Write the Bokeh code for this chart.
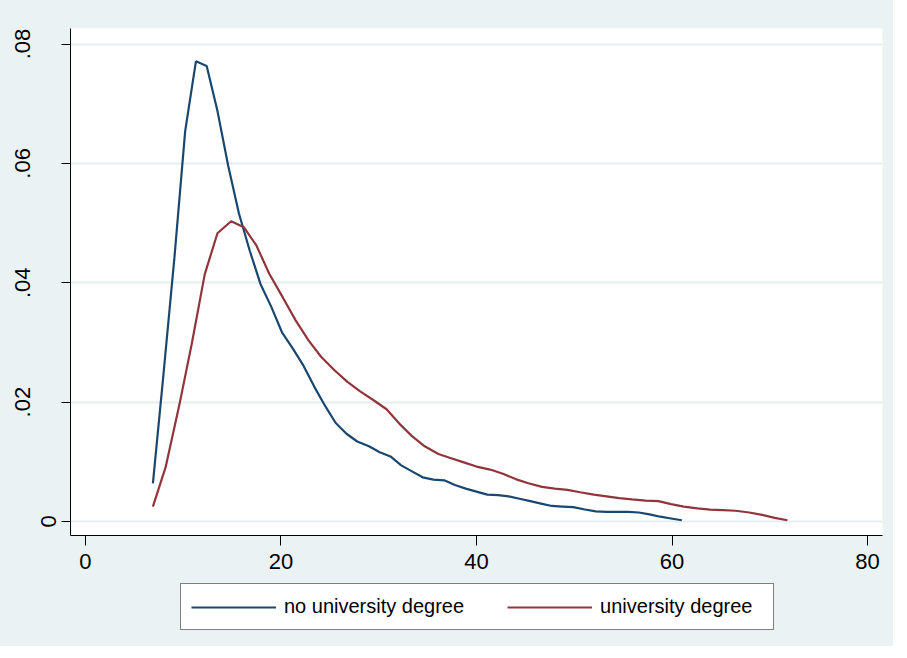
from bokeh.plotting import figure
from bokeh.models import FixedTicker, LinearAxis, Legend, LegendItem, Range1d
from bokeh.layouts import column
from bokeh.embed import file_html
from bokeh.resources import INLINE

# ---- data ----
x_no = [6.9, 8.0, 9.1, 10.2, 11.3, 12.4, 13.5, 14.6, 15.7, 16.8,
        17.9, 19.0, 20.1, 21.2, 22.3, 23.4, 24.5, 25.6, 26.7, 27.8,
        29.0, 30.1, 31.2, 32.3, 33.4, 34.5, 35.6, 36.7, 37.8, 38.9,
        40.0, 41.1, 42.2, 43.3, 44.4, 45.5, 46.6, 47.7, 48.8, 49.9,
        51.1, 52.2, 53.3, 54.4, 55.5, 56.6, 57.7, 58.8, 59.9, 61.0]
y_no = [0.0064, 0.0250, 0.0442, 0.0654, 0.0771, 0.0763, 0.0688, 0.0596, 0.0516, 0.0454,
        0.0398, 0.0360, 0.0317, 0.0290, 0.0261, 0.0226, 0.0194, 0.0165, 0.0147, 0.0134,
        0.0126, 0.0116, 0.0109, 0.0094, 0.0084, 0.0074, 0.0070, 0.0069, 0.0061, 0.0055,
        0.0050, 0.0045, 0.0044, 0.0042, 0.0038, 0.0034, 0.0030, 0.0026, 0.0025, 0.0024,
        0.0020, 0.0017, 0.0016, 0.0016, 0.0016, 0.0015, 0.0012, 0.0008, 0.0005, 0.0002]

x_uni = [6.9, 8.2, 9.6, 10.9, 12.2, 13.5, 14.9, 16.2, 17.5, 18.8,
         20.2, 21.5, 22.8, 24.1, 25.5, 26.8, 28.1, 29.4, 30.8, 32.1,
         33.4, 34.7, 36.1, 37.4, 38.7, 40.0, 41.4, 42.7, 44.0, 45.3,
         46.7, 48.0, 49.3, 50.6, 52.0, 53.3, 54.6, 55.9, 57.3, 58.6,
         59.9, 61.2, 62.6, 63.9, 65.2, 66.5, 67.9, 69.2, 70.5, 71.8]
y_uni = [0.0025, 0.0091, 0.0195, 0.0300, 0.0414, 0.0483, 0.0503, 0.0493, 0.0462, 0.0415,
         0.0375, 0.0337, 0.0304, 0.0276, 0.0253, 0.0234, 0.0218, 0.0204, 0.0188, 0.0164,
         0.0143, 0.0126, 0.0113, 0.0106, 0.0099, 0.0092, 0.0087, 0.0080, 0.0071, 0.0064,
         0.0058, 0.0055, 0.0053, 0.0049, 0.0045, 0.0042, 0.0039, 0.0037, 0.0035, 0.0034,
         0.0029, 0.0025, 0.0022, 0.0020, 0.0019, 0.0018, 0.0015, 0.0011, 0.0006, 0.0002]

x_ticks = [0, 20, 40, 60, 80]
y_ticks = [0, 0.02, 0.04, 0.06, 0.08]
y_tick_labels = ["0", ".02", ".04", ".06", ".08"]
series_names = ["no university degree", "university degree"]

# ---- styling ----
BG = "#EAF2F3"
NAVY = "#1A476F"
MAROON = "#90353B"
FONT = "Liberation Sans"

p = figure(width=893, height=578, output_backend="svg", toolbar_location=None,
           x_range=Range1d(-1.53, 81.53), y_range=Range1d(-0.00235, 0.0826),
           min_border_left=70, min_border_right=11, min_border_top=28,
           min_border_bottom=43,
           background_fill_color="white", border_fill_color=BG,
           outline_line_color=None)

# grid
p.xgrid.grid_line_color = None
p.ygrid.ticker = FixedTicker(ticks=y_ticks)
p.ygrid.grid_line_color = "#E4EEF0"
p.ygrid.grid_line_width = 2

# x axis
xa = p.xaxis[0]
xa.ticker = FixedTicker(ticks=x_ticks)
xa.minor_tick_line_color = None
xa.major_tick_in = 0
xa.major_tick_out = 10
xa.major_tick_line_color = "black"
xa.axis_line_color = "black"
xa.major_label_standoff = 8
xa.major_label_text_font = FONT
xa.major_label_text_font_size = "22px"
xa.major_label_text_color = "black"

# inner y axis: tick marks for all, label only for 0
ya = p.yaxis[0]
ya.ticker = FixedTicker(ticks=y_ticks)
ya.major_label_overrides = {t: (lab if t == 0 else "") for t, lab in zip(y_ticks, y_tick_labels)}
ya.minor_tick_line_color = None
ya.major_tick_in = 0
ya.major_tick_out = 9
ya.major_tick_line_color = "black"
ya.axis_line_color = "black"
ya.major_label_orientation = "vertical"
ya.major_label_standoff = 5
ya.major_label_text_font = FONT
ya.major_label_text_font_size = "22px"
ya.major_label_text_color = "black"

# outer y axis: labels .02 ... .08 (placed further left, as in the reference)
ya2 = LinearAxis(ticker=FixedTicker(ticks=y_ticks[1:]),
                 major_label_overrides={t: lab for t, lab in zip(y_ticks[1:], y_tick_labels[1:])},
                 axis_line_color=None, major_tick_line_color=None,
                 minor_tick_line_color=None, major_tick_in=0, major_tick_out=0,
                 major_label_orientation="vertical", major_label_standoff=8,
                 major_label_text_font=FONT, major_label_text_font_size="22px",
                 major_label_text_color="black")
p.add_layout(ya2, "left")

# lines
r1 = p.line(x_no, y_no, line_color=NAVY, line_width=2.2)
r2 = p.line(x_uni, y_uni, line_color=MAROON, line_width=2.2)

# ---- legend strip below the chart (its frame is aligned with the chart's frame) ----
p2 = figure(width=893, height=68, output_backend="svg", toolbar_location=None,
            x_axis_location=None, y_axis_location=None,
            x_range=Range1d(-200, -100), y_range=Range1d(0, 1),
            min_border=0, background_fill_color=BG, border_fill_color=BG,
            outline_line_color=None)
p2.grid.visible = False
# same series, kept out of this strip's visible range: only their legend keys show
k1 = p2.line(x_no, y_no, line_color=NAVY, line_width=2.2)
k2 = p2.line(x_uni, y_uni, line_color=MAROON, line_width=2.2)

legend = Legend(items=[LegendItem(label=series_names[0], renderers=[k1]),
                       LegendItem(label=series_names[1], renderers=[k2])],
                orientation="horizontal", location=(110, 16),
                glyph_width=85, glyph_height=20, label_standoff=8, spacing=43,
                padding=10, margin=0, label_width=163, label_height=25,
                border_line_color="black", border_line_width=1,
                background_fill_color="white", background_fill_alpha=1,
                label_text_font=FONT, label_text_font_size="20px",
                label_text_color="black")
p2.add_layout(legend, "center")

layout = column(p, p2, spacing=0, background=BG)
open("out.html", "w").write(file_html(layout, INLINE))
